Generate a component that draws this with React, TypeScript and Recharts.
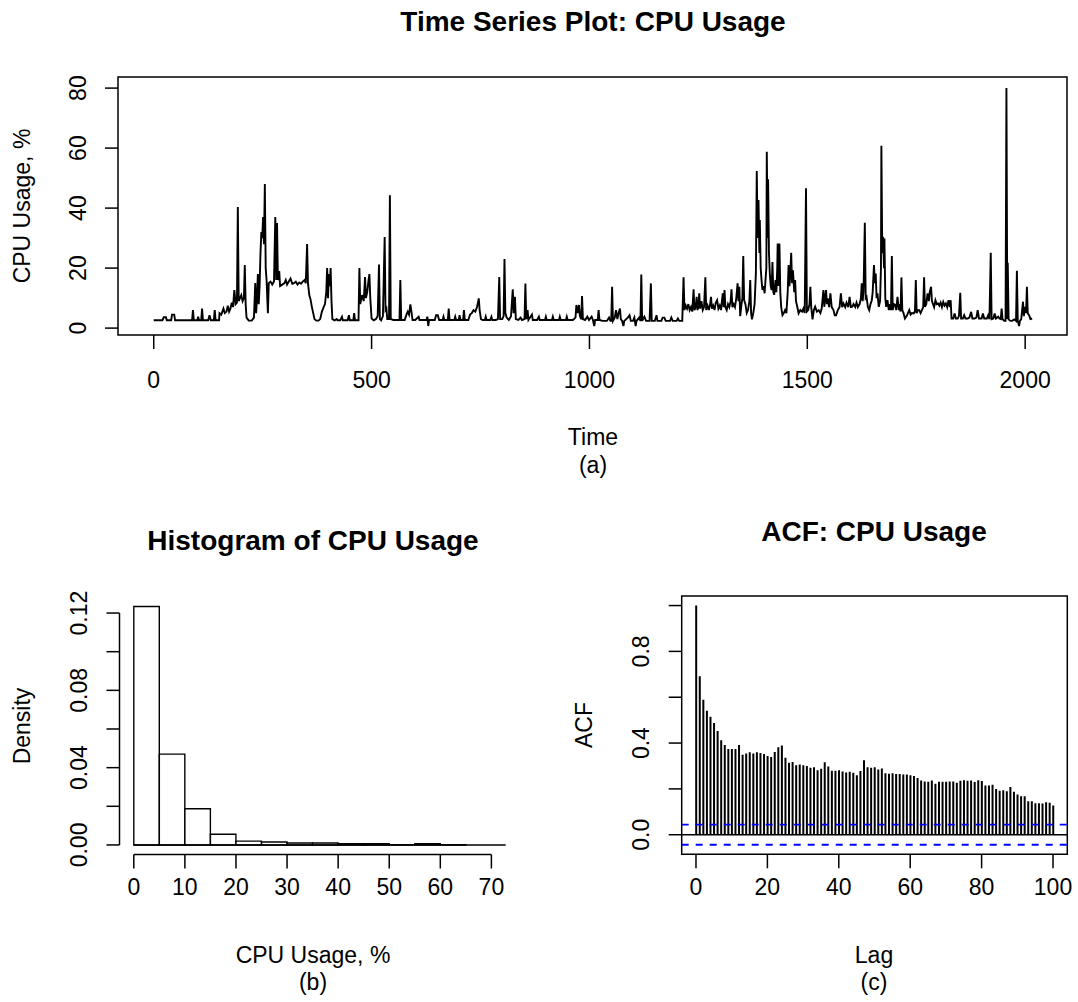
import React from 'react';
import {
  LineChart,
  Line,
  ComposedChart,
  BarChart,
  Bar,
  XAxis,
  YAxis,
  ReferenceArea,
  ReferenceLine,
} from 'recharts';

const FONT = '"Liberation Sans", Arial, Helvetica, sans-serif';

// ---------------------------------------------------------------------------
// (a) CPU usage time series, [time, cpu %]
// ---------------------------------------------------------------------------
const tsQuiet: [number, number][] = [
  [0, 2.6], [10, 2.6], [20, 2.6], [23, 3.6], [28, 3.6], [30, 2.6], [40, 2.6], [42, 4.5], [47, 4.5], [49, 2.6],
  [60, 2.6], [75, 2.6], [88, 2.6], [90, 6], [92, 2.6], [100, 2.6], [102, 3.8], [104, 2.6], [109, 2.6], [111, 6.5],
  [113, 2.6], [125, 2.6], [128, 4.3], [131, 2.6], [138, 2.6], [140, 6], [142, 2.6], [150, 2.6],
  [151, 5], [155, 4.5], [160, 6.5], [163, 5], [167, 5.5], [170, 7.5], [173, 5.5], [176, 6.5], [179, 8.5], [182, 7],
  [185, 12.7], [188, 8], [191, 8.5], [193, 40.4], [195, 9], [198, 10], [201, 11], [204, 9], [207, 10], [209, 21],
  [211, 8], [213, 3.5], [218, 2.5], [225, 2.5], [230, 3.5], [233, 15], [235, 5], [237, 10], [239, 18], [241, 8],
  [243, 14], [245, 25], [247, 32], [249, 30], [251, 37], [253, 28], [255, 48], [257, 20], [259, 16], [262, 5],
  [264, 15], [268, 15.5], [272, 14.5], [276, 15.5], [279, 37], [281, 16], [283, 35], [285, 16], [288, 19], [290, 14],
  [295, 14.5], [300, 15], [303, 16], [306, 14.5], [310, 15.5], [314, 16.5], [318, 14.8], [322, 15], [326, 15.5],
  [330, 14.5], [334, 15.2], [338, 14.8], [342, 15.5], [346, 16], [349, 15], [352, 28], [354, 15], [357, 11],
  [360, 9.5], [363, 7], [366, 5], [369, 3], [373, 2.5], [378, 2.5], [382, 3], [386, 5.5], [390, 7], [393, 8],
  [396, 12], [398, 20], [400, 10], [402, 18], [404, 14], [406, 20], [408, 9], [410, 3], [415, 2.6], [420, 3],
  [422, 2.6], [428, 2.6], [432, 3.8], [434, 2.6], [445, 2.6], [448, 4.3], [450, 2.6], [458, 2.6], [460, 5], [462, 2.6],
  [470, 2.6], [472, 20], [474, 8], [478, 11], [482, 9], [485, 17], [487, 10], [490, 12], [493, 16], [495, 18],
  [497, 10], [500, 3.2], [505, 2.6], [510, 3], [514, 4], [517, 21.2], [519, 3], [522, 2.6], [526, 4], [530, 30.4],
  [532, 6], [534, 6.5], [536, 3], [540, 3], [542, 44.3], [544, 3], [550, 2.7], [558, 2.7], [564, 2.7], [566, 16],
  [568, 2.7], [576, 2.7], [580, 4.5], [583, 5.5], [586, 4.5], [589, 7.9], [591, 6], [594, 2.7], [600, 2.7],
  [608, 3.8], [610, 2.7], [626, 2.7], [628, 3.8], [630, 0.7], [632, 2.7], [645, 2.7], [648, 4.3], [652, 4.3],
  [655, 2.7], [663, 2.7], [665, 3.8], [667, 2.7], [675, 2.7], [677, 6.5], [679, 2.7], [690, 2.7], [692, 3.8],
  [694, 2.7], [700, 2.7], [702, 4.3], [704, 2.7], [710, 2.7], [712, 6], [714, 2.7], [722, 2.7], [726, 4.5],
  [730, 5], [734, 6], [738, 5.5], [742, 7], [746, 9.9], [748, 6], [751, 3], [755, 2.7], [760, 2.7], [762, 3.8],
  [764, 2.7], [772, 2.7], [775, 3.8], [777, 2.7], [785, 2.7], [790, 3], [793, 17], [795, 3], [800, 3], [803, 4],
  [805, 23], [807, 5], [810, 3.5], [815, 2.7], [820, 4], [824, 12.9], [826, 5], [829, 10.4], [831, 3], [837, 2.7],
  [842, 3.5], [845, 2.7], [851, 3], [853, 14.9], [855, 3], [858, 6], [860, 2.7], [868, 4.5], [870, 2.7], [880, 2.7],
  [884, 3.8], [886, 2.7], [898, 2.7], [900, 3.8], [902, 2.7], [914, 2.7], [916, 3.8], [918, 2.7], [930, 2.7],
  [932, 3.8], [934, 2.7], [946, 2.7], [948, 3.8], [950, 2.7], [962, 2.7], [968, 3.5], [970, 7.7], [973, 5],
  [976, 7.7], [978, 4], [981, 3], [983, 10.7], [985, 3], [990, 2.7], [995, 3.8], [999, 2.7], [1005, 3.8],
  [1008, 2.7], [1011, 0.7], [1013, 2.7], [1019, 2.7], [1021, 6], [1023, 2.7], [1030, 2.4], [1040, 2.4],
  [1045, 3.5], [1048, 2.4], [1050, 2.4], [1052, 13.8], [1054, 2.4], [1058, 3.5], [1061, 6], [1064, 3], [1067, 5],
  [1070, 6.5], [1072, 3], [1075, 2.4], [1078, 0.7], [1080, 2.4], [1088, 3.5], [1092, 4.3], [1095, 2.4],
  [1100, 2.4], [1103, 3.5], [1106, 0.7], [1108, 2.4], [1114, 3.5], [1117, 2.4], [1119, 17.9], [1121, 2.4],
  [1126, 3.8], [1130, 2.4], [1138, 2.4], [1141, 14.9], [1143, 2.4], [1150, 2.4], [1154, 4.3], [1156, 2.4],
  [1165, 2.4], [1168, 3.5], [1172, 3.5], [1175, 2.4], [1185, 2.4], [1188, 3.5], [1191, 2.4], [1200, 2.4],
  [1203, 3.2], [1206, 2.4], [1213, 2.4],
];

const tsBusy: [number, number][] = [
  [1216, 16.9], [1218, 6], [1221, 7.5], [1224, 6.5], [1227, 8], [1230, 6], [1233, 7], [1236, 5.5], [1239, 12.9],
  [1241, 6], [1244, 7], [1246, 10.4], [1248, 6], [1250, 7], [1252, 11.6], [1254, 6.5], [1257, 9], [1260, 6],
  [1263, 7], [1266, 16.9], [1268, 6], [1271, 7.5], [1274, 6], [1277, 8], [1279, 10.4], [1281, 6.5], [1284, 7.5],
  [1287, 6], [1290, 8.5], [1293, 9.3], [1296, 6.5], [1299, 7.5], [1302, 6], [1304, 9], [1306, 11.6], [1308, 7],
  [1310, 12.7], [1312, 7], [1315, 6], [1318, 8], [1321, 7], [1324, 9], [1326, 12.9], [1328, 7], [1331, 8],
  [1334, 7], [1337, 10], [1340, 14.9], [1342, 9], [1344, 13.8], [1346, 4], [1349, 8], [1351, 10], [1353, 24],
  [1355, 9.3], [1358, 8], [1361, 5], [1364, 6], [1367, 9], [1369, 16], [1371, 5], [1373, 2.9], [1376, 5],
  [1379, 8], [1382, 18.4], [1384, 52.4], [1386, 30], [1388, 42.7], [1390, 25], [1391, 36], [1393, 20], [1395, 16],
  [1397, 12.7], [1400, 14], [1402, 11.6], [1404, 16], [1406, 20], [1407, 58.8], [1409, 30], [1410, 49.6],
  [1412, 25], [1414, 18], [1416, 14], [1418, 12.7], [1420, 22], [1422, 12], [1424, 11.1], [1427, 16], [1429, 12],
  [1431, 20], [1432, 28.2], [1434, 14], [1436, 28.2], [1438, 12], [1440, 7.1], [1443, 4.3], [1446, 5], [1449, 6],
  [1452, 5], [1455, 12], [1457, 21], [1459, 14], [1461, 18], [1463, 25.1], [1465, 15], [1467, 19.3], [1470, 12],
  [1472, 16], [1474, 9], [1477, 7.1], [1480, 4.9], [1484, 6], [1488, 5.5], [1491, 6.5], [1494, 5], [1497, 46.6],
  [1499, 5.5], [1502, 6], [1505, 8], [1507, 13.8], [1509, 7], [1512, 2.9], [1515, 6], [1518, 7.1], [1522, 5.5],
  [1526, 6], [1530, 5], [1533, 6.5], [1537, 12.7], [1539, 7.1], [1541, 10], [1543, 12.7], [1545, 8], [1547, 9.9],
  [1550, 7], [1553, 11.6], [1556, 7], [1560, 6], [1563, 4.3], [1566, 4.3], [1570, 6], [1574, 7], [1577, 11.6],
  [1580, 7], [1583, 8.2], [1587, 7], [1590, 8.5], [1594, 7], [1597, 10.4], [1600, 7], [1603, 7.1], [1606, 8],
  [1610, 7], [1613, 8.5], [1616, 7], [1620, 8], [1623, 10], [1625, 14.9], [1627, 9], [1629, 12.1], [1632, 35.1],
  [1634, 10], [1636, 10.4], [1639, 7], [1642, 6], [1645, 8], [1648, 9.3], [1650, 12], [1653, 21], [1655, 15],
  [1657, 18.2], [1659, 10], [1661, 11.6], [1664, 7.1], [1667, 9], [1669, 20], [1670, 60.8], [1672, 25],
  [1674, 30.4], [1676, 20], [1677, 29.9], [1679, 10], [1681, 7.1], [1684, 9.3], [1687, 6], [1690, 8], [1692, 6],
  [1694, 24], [1696, 6], [1699, 8], [1702, 7.7], [1704, 6], [1707, 10.4], [1710, 6], [1712, 8], [1714, 5.5],
  [1716, 16.9], [1718, 6], [1721, 4.9], [1724, 3.2], [1728, 4], [1731, 5], [1734, 6], [1737, 4.5], [1740, 5],
  [1744, 4.9], [1747, 5.5], [1749, 16], [1751, 5], [1754, 6], [1757, 6], [1760, 5], [1763, 6], [1766, 7],
  [1768, 16.9], [1770, 7.1], [1773, 8], [1776, 11.6], [1779, 9], [1781, 12], [1784, 13.8], [1786, 9], [1788, 8.2],
  [1791, 7], [1794, 9.3], [1797, 8], [1800, 8.2], [1803, 7.5], [1806, 8.5], [1809, 7], [1812, 8.7], [1815, 7.5],
  [1818, 8.2], [1821, 7], [1824, 9.3], [1827, 7], [1829, 9.3], [1831, 3.2], [1835, 3.2], [1838, 4.9], [1841, 3.2],
  [1845, 3.2], [1848, 4], [1851, 11.8], [1853, 3.2], [1857, 3.2], [1860, 4.3], [1863, 3.2], [1868, 3.2],
  [1872, 3.5], [1876, 5.4], [1879, 3.2], [1884, 3.2], [1888, 3.5], [1891, 6], [1894, 3.2], [1900, 3.2],
  [1903, 4.9], [1906, 3.2], [1912, 3.2], [1915, 4.3], [1918, 3], [1921, 25.1], [1923, 3], [1927, 3.2], [1930, 4.9],
  [1933, 3.2], [1938, 3.8], [1941, 3.2], [1944, 3], [1946, 6.5], [1948, 3], [1952, 2.4], [1955, 2.4], [1957, 80],
  [1959, 3], [1960, 21.8], [1962, 2.9], [1966, 2.4], [1970, 2.4], [1975, 2.9], [1979, 2.4], [1981, 19.1],
  [1983, 2.4], [1986, 0.7], [1988, 2.4], [1991, 3], [1993, 6], [1995, 8.8], [1997, 4], [1999, 7.1], [2002, 5],
  [2004, 13.8], [2006, 4.9], [2009, 4.3], [2012, 3], [2016, 3.2],
];

const tsXTicks = [0, 500, 1000, 1500, 2000];
const tsYTicks = [0, 20, 40, 60, 80];

// ---------------------------------------------------------------------------
// (b) histogram, bin width 5
// ---------------------------------------------------------------------------
const histBinStart = [0, 5, 10, 15, 20, 25, 30, 35, 40, 45, 50, 55, 60, 65, 70, 75];
const histDensity = [
  0.1234, 0.047, 0.0187, 0.0055, 0.002, 0.0015, 0.001, 0.001, 0.0006, 0.0006, 0.0001, 0.0007, 0.0001, 0.0, 0.0,
  0.0001,
];
const histXTicks = [0, 10, 20, 30, 40, 50, 60, 70];
const histYTicks = [0, 0.02, 0.04, 0.06, 0.08, 0.1, 0.12];
const histYLabels = [0, 0.04, 0.08, 0.12];

// ---------------------------------------------------------------------------
// (c) ACF, lags 0..100
// ---------------------------------------------------------------------------
const acfValue = [
  1.0, 0.691, 0.589, 0.541, 0.515, 0.487, 0.453, 0.412, 0.392, 0.374, 0.374, 0.374, 0.392, 0.349, 0.354, 0.36,
  0.354, 0.36, 0.357, 0.352, 0.344, 0.339, 0.361, 0.382, 0.389, 0.336, 0.314, 0.317, 0.303, 0.306, 0.303, 0.3,
  0.292, 0.294, 0.281, 0.288, 0.316, 0.298, 0.279, 0.279, 0.281, 0.276, 0.272, 0.275, 0.27, 0.26, 0.278, 0.325,
  0.294, 0.292, 0.294, 0.285, 0.289, 0.268, 0.266, 0.268, 0.265, 0.265, 0.263, 0.263, 0.259, 0.256, 0.247, 0.237,
  0.232, 0.231, 0.237, 0.222, 0.231, 0.231, 0.231, 0.232, 0.232, 0.227, 0.235, 0.238, 0.235, 0.237, 0.23, 0.238,
  0.234, 0.215, 0.215, 0.218, 0.199, 0.192, 0.194, 0.19, 0.208, 0.187, 0.175, 0.168, 0.168, 0.146, 0.146, 0.137,
  0.137, 0.136, 0.142, 0.139, 0.127,
];
const acfBound = 0.0437; // 1.96 / sqrt(n)
const acfXTicks = [0, 20, 40, 60, 80, 100];
const acfYTicks = [0, 0.2, 0.4, 0.6, 0.8, 1.0];
const acfYLabels = [0, 0.4, 0.8];

const tsData = [...tsQuiet, ...tsBusy].map(([t, cpu]) => ({ t, cpu }));
const histData = histBinStart.map((b, i) => ({ mid: b + 2.5, density: histDensity[i] }));
const acfData = acfValue.map((acf, lag) => ({ lag, acf }));

const W = 1078;
const H = 1002;
const AXW = 60; // y axis width
const AXH = 60; // x axis height
const TICK = 14;
const LINE = { stroke: '#000', strokeWidth: 1.5 };

const near = (list: number[], v: number) => list.some((l) => Math.abs(l - v) < 1e-9);

function XTick(props: any) {
  const { x, y, payload, fmt } = props;
  return (
    <text x={x} y={y} dy="0.35em" textAnchor="middle" fontSize={23} fontFamily={FONT} fill="#000">
      {fmt(payload.value)}
    </text>
  );
}

function YTick(props: any) {
  const { x, y, payload, fmt, show } = props;
  if (show && !near(show, payload.value)) return <g />;
  return (
    <text
      x={x}
      y={y}
      dy="0.35em"
      textAnchor="middle"
      transform={`rotate(-90 ${x} ${y})`}
      fontSize={23}
      fontFamily={FONT}
      fill="#000"
    >
      {fmt(payload.value)}
    </text>
  );
}

function Txt({ x, y, text, size = 23, bold = false, rotate = false }: any) {
  return (
    <div
      style={{
        position: 'absolute',
        left: x,
        top: y,
        transform: `translate(-50%, -50%)${rotate ? ' rotate(-90deg)' : ''}`,
        fontSize: size,
        fontWeight: bold ? 'bold' : 'normal',
        fontFamily: FONT,
        whiteSpace: 'nowrap',
        lineHeight: 1,
        color: '#000',
      }}
    >
      {text}
    </div>
  );
}

const layer: React.CSSProperties = { position: 'absolute', left: 0, top: 0 };

export default function App() {
  // plot areas (page pixels)
  const ts = { l: 118, r: 1067, t: 77, b: 335 };
  const hs = { l: 119.5, r: 505.7, t: 597, b: 854.5 };
  const ac = { l: 681.7, r: 1067.3, t: 596, b: 854.3 };
  const tsX: [number, number] = [-82, 2096];
  const tsY: [number, number] = [-2.3, 83.7];
  const hsX: [number, number] = [-2.8, 72.8];
  const hsY: [number, number] = [-0.00494, 0.1283];
  const acX: [number, number] = [-4, 104];
  const acY: [number, number] = [-0.0854, 1.0417];
  // a bin is 5 units wide; keep just under the band so recharts doesn't shrink it
  const binPx = 5 * ((hs.r - hs.l) / (hsX[1] - hsX[0])) - 0.05;

  return (
    <div style={{ position: 'relative', width: W, height: H, background: '#fff', overflow: 'hidden' }}>
      <style>{'body{margin:0;background:#fff}'}</style>

      {/* (a) time series */}
      <div style={layer}>
        <LineChart
          width={W}
          height={H}
          data={tsData}
          margin={{ top: ts.t, right: W - ts.r, bottom: H - ts.b - AXH, left: ts.l - AXW }}
        >
          <XAxis
            type="number"
            dataKey="t"
            domain={tsX}
            allowDataOverflow
            ticks={tsXTicks}
            interval={0}
            height={AXH}
            axisLine={false}
            tickLine={LINE}
            tickSize={TICK}
            tickMargin={31}
            tick={(p: any) => <XTick {...p} fmt={(v: number) => String(v)} />}
          />
          <YAxis
            type="number"
            domain={tsY}
            allowDataOverflow
            ticks={tsYTicks}
            interval={0}
            width={AXW}
            axisLine={false}
            tickLine={LINE}
            tickSize={13}
            tickMargin={27.5}
            tick={(p: any) => <YTick {...p} fmt={(v: number) => String(v)} />}
          />
          <Line
            type="linear"
            dataKey="cpu"
            stroke="#000"
            strokeWidth={1.9}
            strokeLinejoin="miter"
            dot={false}
            isAnimationActive={false}
          />
          <ReferenceArea
            x1={tsX[0]}
            x2={tsX[1]}
            y1={tsY[0]}
            y2={tsY[1]}
            fill="none"
            fillOpacity={0}
            stroke="#000"
            strokeWidth={1.5}
            ifOverflow="visible"
          />
        </LineChart>
      </div>

      {/* (b) histogram */}
      <div style={layer}>
        <ComposedChart
          width={W}
          height={H}
          data={histData}
          margin={{ top: hs.t, right: W - hs.r, bottom: H - hs.b - AXH, left: hs.l - AXW }}
        >
          <XAxis
            type="number"
            dataKey="mid"
            domain={hsX}
            allowDataOverflow
            ticks={histXTicks}
            interval={0}
            height={AXH}
            axisLine={false}
            tickLine={LINE}
            tickSize={TICK}
            tickMargin={18.5}
            tick={(p: any) => <XTick {...p} fmt={(v: number) => String(v)} />}
          />
          <YAxis
            type="number"
            domain={hsY}
            allowDataOverflow
            ticks={histYTicks}
            interval={0}
            width={AXW}
            axisLine={false}
            tickLine={LINE}
            tickSize={13}
            tickMargin={27.5}
            tick={(p: any) => <YTick {...p} show={histYLabels} fmt={(v: number) => v.toFixed(2)} />}
          />
          <Bar
            dataKey="density"
            barSize={binPx}
            fill="#fff"
            stroke="#000"
            strokeWidth={1.4}
            isAnimationActive={false}
          />
          <ReferenceLine segment={[{ x: 0, y: 0 }, { x: hsX[1], y: 0 }]} {...LINE} ifOverflow="visible" />
          <ReferenceLine
            segment={[{ x: histXTicks[0], y: hsY[0] }, { x: histXTicks[histXTicks.length - 1], y: hsY[0] }]}
            {...LINE}
            ifOverflow="visible"
          />
          <ReferenceLine
            segment={[{ x: hsX[0], y: histYTicks[0] }, { x: hsX[0], y: histYTicks[histYTicks.length - 1] }]}
            {...LINE}
            ifOverflow="visible"
          />
        </ComposedChart>
      </div>

      {/* (c) ACF */}
      <div style={layer}>
        <BarChart
          width={W}
          height={H}
          data={acfData}
          margin={{ top: ac.t, right: W - ac.r, bottom: H - ac.b - AXH, left: ac.l - AXW }}
        >
          <XAxis
            type="number"
            dataKey="lag"
            domain={acX}
            allowDataOverflow
            ticks={acfXTicks}
            interval={0}
            height={AXH}
            axisLine={false}
            tickLine={LINE}
            tickSize={TICK}
            tickMargin={18.5}
            tick={(p: any) => <XTick {...p} fmt={(v: number) => String(v)} />}
          />
          <YAxis
            type="number"
            domain={acY}
            allowDataOverflow
            ticks={acfYTicks}
            interval={0}
            width={AXW}
            axisLine={false}
            tickLine={LINE}
            tickSize={13}
            tickMargin={27.5}
            tick={(p: any) => <YTick {...p} show={acfYLabels} fmt={(v: number) => v.toFixed(1)} />}
          />
          <ReferenceLine y={acfBound} stroke="#0000ff" strokeWidth={1.8} strokeDasharray="7 7" />
          <ReferenceLine y={-acfBound} stroke="#0000ff" strokeWidth={1.8} strokeDasharray="7 7" />
          <ReferenceLine y={0} {...LINE} />
          <Bar dataKey="acf" barSize={2} fill="#000" isAnimationActive={false} />
          <ReferenceArea
            x1={acX[0]}
            x2={acX[1]}
            y1={acY[0]}
            y2={acY[1]}
            fill="none"
            fillOpacity={0}
            stroke="#000"
            strokeWidth={1.5}
            ifOverflow="visible"
          />
        </BarChart>
      </div>

      {/* titles and axis titles */}
      <Txt x={593} y={22} text="Time Series Plot: CPU Usage" size={28} bold />
      <Txt x={22} y={206} text="CPU Usage, %" rotate />
      <Txt x={593} y={437} text="Time" />
      <Txt x={593} y={465} text="(a)" />

      <Txt x={313} y={541} text="Histogram of CPU Usage" size={28} bold />
      <Txt x={22} y={726} text="Density" rotate />
      <Txt x={313} y={955} text="CPU Usage, %" />
      <Txt x={313} y={982} text="(b)" />

      <Txt x={874} y={532} text="ACF: CPU Usage" size={28} bold />
      <Txt x={584} y={725} text="ACF" rotate />
      <Txt x={874} y={955} text="Lag" />
      <Txt x={874} y={982} text="(c)" />
    </div>
  );
}
